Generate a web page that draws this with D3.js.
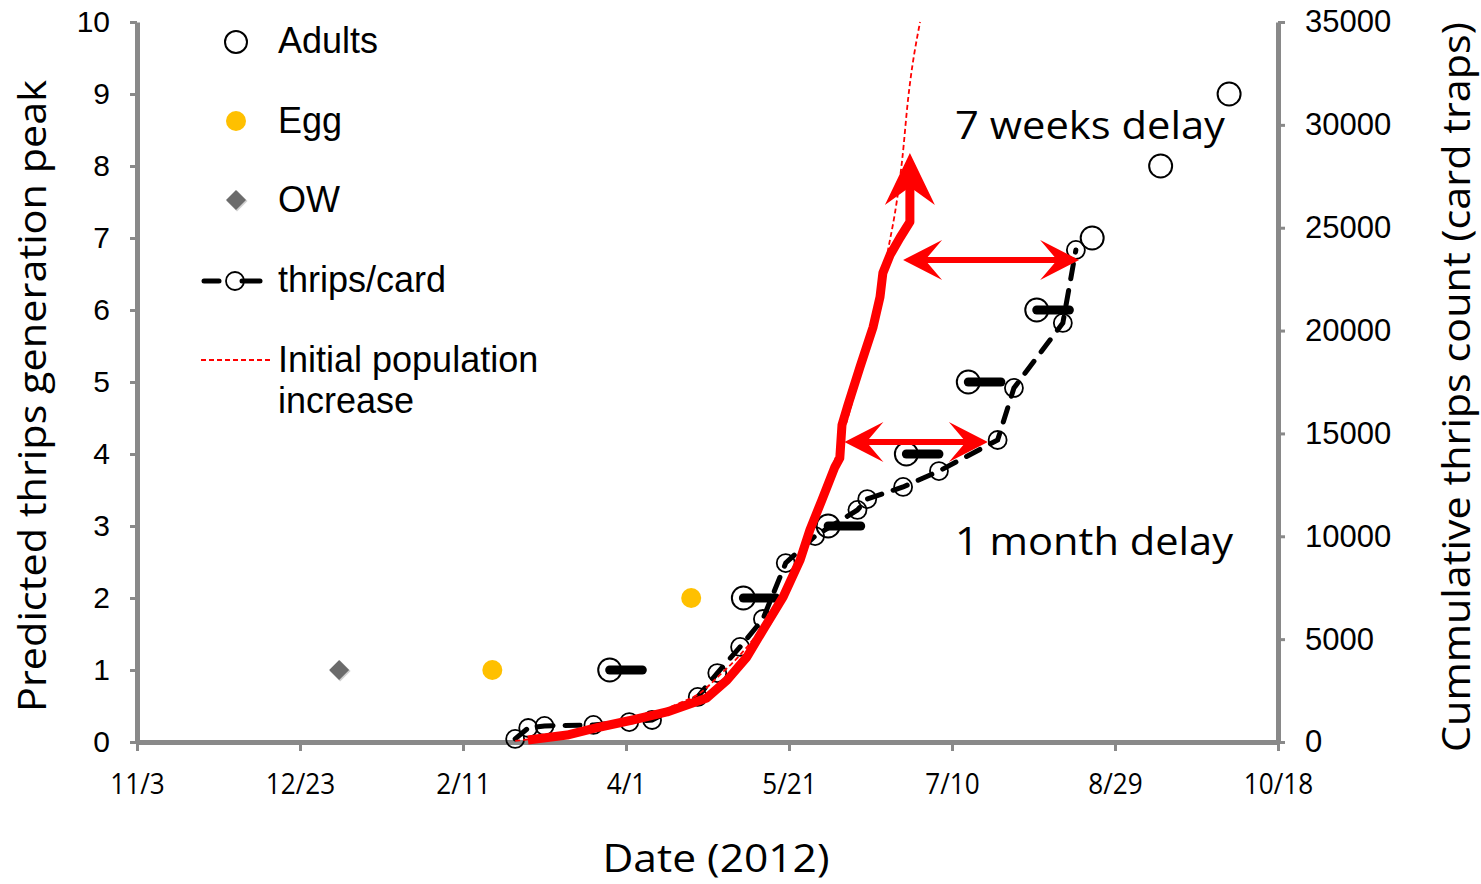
<!DOCTYPE html>
<html><head><meta charset="utf-8">
<script src="https://cdn.jsdelivr.net/npm/d3@7"></script>
<style>body{margin:0;background:#fff} svg{display:block}</style>
</head><body>
<svg id="c" width="1481" height="884"></svg>
<script>
// ---------------- DATA ----------------
const tickDates  = ["2011-11-03","2011-12-23","2012-02-11","2012-04-01","2012-05-21","2012-07-10","2012-08-29","2012-10-18"];
const tickLabels = ["11/3","12/23","2/11","4/1","5/21","7/10","8/29","10/18"];
const genTicks   = [0,1,2,3,4,5,6,7,8,9,10];
const countTicks = [0,5000,10000,15000,20000,25000,30000,35000];

const owDates = ["2012-01-04"];
const owGen   = [1];

const eggDates = ["2012-02-20","2012-04-21"];
const eggGen   = [1,2];

const adultDates  = ["2012-03-27","2012-05-07","2012-06-02","2012-06-26","2012-07-15","2012-08-05","2012-08-22","2012-09-12","2012-10-03"];
const adultGen    = [1,2,3,4,5,6,7,8,9];
const adultSpread = [10,10,10,10,10,10,0,0,0];   // days (horizontal bar to the right)

const thripsDates = ["2012-02-27","2012-03-02","2012-03-07","2012-03-22","2012-04-02","2012-04-09","2012-04-23","2012-04-29","2012-05-06","2012-05-13","2012-05-20","2012-05-29","2012-06-11","2012-06-14","2012-06-25","2012-07-06","2012-07-24","2012-07-29","2012-08-13","2012-08-17"];
const thripsCum   = [150,680,780,830,970,1070,2190,3350,4620,5980,8700,10010,11280,11810,12400,13170,14680,17210,20370,23920];

const predDates = ["2012-03-01T22:00","2012-03-13T22:00","2012-03-24","2012-04-03","2012-04-13T14:00","2012-04-25T19:00","2012-05-02","2012-05-08T02:00","2012-05-13","2012-05-19T05:00","2012-05-24T10:00","2012-05-27T10:00","2012-05-31T02:00","2012-06-04T02:00","2012-06-05T14:00","2012-06-06T06:00","2012-06-08T02:00","2012-06-11T19:00","2012-06-15T19:00","2012-06-17T22:00","2012-06-18T19:00","2012-06-21","2012-06-24","2012-06-27T02:00","2012-06-27T02:00"];
const predCum   = [100,340,730,1070,1460,2140,3010,4130,5440,7050,8850,10310,11760,13370,13800,15410,16380,18230,20170,21630,22800,23670,24500,25280,26980];

const initDates = ["2012-02-27","2012-03-11T18:00","2012-03-24","2012-04-05T07:00","2012-04-17T14:00","2012-04-23T17:00","2012-04-29T19:00","2012-05-06","2012-05-12T02:00","2012-05-18T05:00","2012-05-24T10:00","2012-05-30T12:00","2012-06-04T02:00","2012-06-08T17:00","2012-06-13T07:00","2012-06-17T22:00","2012-06-20T09:00","2012-06-23T03:00","2012-06-24T17:00","2012-06-26T12:00","2012-06-30T05:00"];
const initCum   = [50,340,680,1170,1900,2380,3260,4230,5440,7000,9090,11520,13710,16140,18810,21970,23920,26350,28290,31210,35000];

// delay arrows: [start date, end date, count level]
const delayArrows = [
  {from:"2012-06-25", to:"2012-08-18", count:23430, label:"7 weeks delay"},
  {from:"2012-06-07", to:"2012-07-21", count:14580, label:"1 month delay"}
];

// ---------------- SETUP ----------------
const parse = s => d3.utcParse(s.length > 10 ? "%Y-%m-%dT%H:%M" : "%Y-%m-%d")(s);
const svg = d3.select("#c");
const L = 137, R = 1278, T = 22, B = 742;
const AX = "#898989", RED = "#ff0000";

const x  = d3.scaleUtc().domain([parse(tickDates[0]), parse(tickDates[tickDates.length-1])]).range([L, R]);
const yL = d3.scaleLinear().domain([0,10]).range([B, T]);
const yR = d3.scaleLinear().domain([0,35000]).range([B, T]);

function fit(sel, w){ sel.attr("textLength", w).attr("lengthAdjust","spacingAndGlyphs"); }

// ---------------- AXES ----------------
const gx = svg.append("g").attr("transform",`translate(0,${B})`)
  .call(d3.axisBottom(x).tickValues(tickDates.map(parse)).tickFormat((d,i)=>tickLabels[i]).tickSize(9).tickSizeOuter(0));
const gl = svg.append("g").attr("transform",`translate(${L},0)`)
  .call(d3.axisLeft(yL).tickValues(genTicks).tickFormat(d3.format("d")).tickSize(7).tickSizeOuter(0).tickPadding(20));
const gr = svg.append("g").attr("transform",`translate(${R},0)`)
  .call(d3.axisRight(yR).tickValues(countTicks).tickFormat(d3.format("d")).tickSize(7).tickSizeOuter(0).tickPadding(20));

[gx,gl,gr].forEach(g=>{
  g.select(".domain").attr("stroke",AX).attr("stroke-width",5);
  g.selectAll(".tick line").attr("stroke",AX).attr("stroke-width",3);
});
gl.selectAll(".tick text").attr("font-family","Liberation Sans, Arial, sans-serif").attr("font-size",30).attr("fill","#000");
gr.selectAll(".tick text").attr("font-family","Liberation Sans, Arial, sans-serif").attr("font-size",31).attr("fill","#000");
gx.selectAll(".tick text").attr("font-family","Open Sans, sans-serif").attr("font-size",29).attr("fill","#000")
  .attr("y",52).attr("dy",0)
  .each(function(){ const w=this.getComputedTextLength(); d3.select(this).attr("textLength",w*0.9).attr("lengthAdjust","spacingAndGlyphs"); });

// axis titles
svg.append("text").attr("x",716).attr("y",872).attr("text-anchor","middle")
  .attr("font-family","Open Sans, sans-serif").attr("font-size",39).text("Date (2012)").call(fit,227);
svg.append("text").attr("transform","translate(46,396) rotate(-90)").attr("text-anchor","middle")
  .attr("font-family","Open Sans, sans-serif").attr("font-size",39).text("Predicted thrips generation peak").call(fit,632);
svg.append("text").attr("transform","translate(1470,387) rotate(-90)").attr("text-anchor","middle")
  .attr("font-family","Open Sans, sans-serif").attr("font-size",39).text("Cummulative thrips count (card traps)").call(fit,730);

// ---------------- MARKS ----------------
const plot = svg.append("g");

// thrips/card dashed line + circles
const thrips = thripsDates.map((d,i)=>({x:x(parse(d)), y:yR(thripsCum[i])}));
plot.append("path").attr("d", d3.line().x(d=>d.x).y(d=>d.y)(thrips))
  .attr("fill","none").attr("stroke","#000").attr("stroke-width",5)
  .attr("stroke-dasharray","15,12").attr("stroke-linecap","round");
plot.selectAll(".tc").data(thrips).join("circle")
  .attr("cx",d=>d.x).attr("cy",d=>d.y).attr("r",9)
  .attr("fill","none").attr("stroke","#000").attr("stroke-width",1.8);

// adults
const adults = adultDates.map((d,i)=>({date:parse(d), g:adultGen[i], s:adultSpread[i]}));
plot.selectAll(".ad").data(adults).join("circle")
  .attr("cx",d=>x(d.date)).attr("cy",d=>yL(d.g)).attr("r",11.5)
  .attr("fill","none").attr("stroke","#000").attr("stroke-width",2);
plot.selectAll(".bar").data(adults.filter(d=>d.s>0)).join("line")
  .attr("x1",d=>x(d.date)).attr("x2",d=>x(d3.utcDay.offset(d.date,d.s)))
  .attr("y1",d=>yL(d.g)).attr("y2",d=>yL(d.g))
  .attr("stroke","#000").attr("stroke-width",9).attr("stroke-linecap","round");

// eggs
plot.selectAll(".egg").data(eggDates.map((d,i)=>({date:parse(d),g:eggGen[i]}))).join("circle")
  .attr("cx",d=>x(d.date)).attr("cy",d=>yL(d.g)).attr("r",10).attr("fill","#ffc000");

// OW
const ows = owDates.map((d,i)=>({date:parse(d),g:owGen[i]}));
plot.selectAll(".owS").data(ows).join("path").attr("d",d3.symbol().type(d3.symbolSquare).size(220)())
  .attr("transform",d=>`translate(${x(d.date)+1},${yL(d.g)+1}) rotate(45)`).attr("fill","#d0d0d0");
plot.selectAll(".ow").data(ows).join("path").attr("d",d3.symbol().type(d3.symbolSquare).size(200)())
  .attr("transform",d=>`translate(${x(d.date)},${yL(d.g)}) rotate(45)`).attr("fill","#6b6b6b");

// predicted cumulative (thick red)
const pred = predDates.map((d,i)=>({x:x(parse(d)), y:yR(predCum[i])}));
plot.append("path").attr("d", d3.line().x(d=>d.x).y(d=>d.y)(pred))
  .attr("fill","none").attr("stroke",RED).attr("stroke-width",9)
  .attr("stroke-linejoin","round").attr("stroke-linecap","butt");

// initial population increase (thin dashed red)
const init = initDates.map((d,i)=>({x:x(parse(d)), y:yR(initCum[i])}));
plot.append("path").attr("d", d3.line().curve(d3.curveMonotoneX).x(d=>d.x).y(d=>d.y)(init))
  .attr("fill","none").attr("stroke",RED).attr("stroke-width",1.8).attr("stroke-dasharray","5,3");

// arrowheads
function head(tx,ty,dx,dy,len,half,notch){
  const px=-dy, py=dx;
  const bx=tx-dx*len, by=ty-dy*len;
  const pts=[[tx,ty],[bx+px*half,by+py*half],[tx-dx*notch,ty-dy*notch],[bx-px*half,by-py*half]];
  plot.append("path").attr("d","M"+pts.map(p=>p.join(",")).join("L")+"Z").attr("fill",RED);
}
// arrow at end of predicted line
{
  const a=pred[pred.length-2], b=pred[pred.length-1];
  const L2=Math.hypot(b.x-a.x,b.y-a.y), dx=(b.x-a.x)/L2, dy=(b.y-a.y)/L2;
  head(b.x+dx*34, b.y+dy*34, dx, dy, 52, 25, 34);
}
// delay arrows
delayArrows.forEach(a=>{
  const x1=x(parse(a.from)), x2=x(parse(a.to)), yy=yR(a.count);
  plot.append("line").attr("x1",x1+20).attr("x2",x2-20).attr("y1",yy).attr("y2",yy)
    .attr("stroke",RED).attr("stroke-width",6);
  head(x1,yy,-1,0,39,20,22);
  head(x2,yy,1,0,39,20,22);
});

// annotations
svg.append("text").attr("x",955).attr("y",139).attr("font-family","Open Sans, sans-serif").attr("font-size",39)
  .text(delayArrows[0].label).call(fit,270);
svg.append("text").attr("x",955).attr("y",555).attr("font-family","Open Sans, sans-serif").attr("font-size",39)
  .text(delayArrows[1].label).call(fit,278);

// ---------------- LEGEND ----------------
const lg = svg.append("g").attr("font-family","Liberation Sans, Arial, sans-serif").attr("font-size",36);
lg.append("circle").attr("cx",236).attr("cy",42).attr("r",11).attr("fill","none").attr("stroke","#000").attr("stroke-width",2);
lg.append("text").attr("x",278).attr("y",53).text("Adults");
lg.append("circle").attr("cx",236).attr("cy",121).attr("r",10).attr("fill","#ffc000");
lg.append("text").attr("x",278).attr("y",133).text("Egg");
lg.append("path").attr("d",d3.symbol().type(d3.symbolSquare).size(220)()).attr("transform","translate(237,201) rotate(45)").attr("fill","#d0d0d0");
lg.append("path").attr("d",d3.symbol().type(d3.symbolSquare).size(200)()).attr("transform","translate(236,200) rotate(45)").attr("fill","#6b6b6b");
lg.append("text").attr("x",278).attr("y",212).text("OW");
lg.append("line").attr("x1",204).attr("x2",219).attr("y1",281).attr("y2",281).attr("stroke","#000").attr("stroke-width",5).attr("stroke-linecap","round");
lg.append("line").attr("x1",242).attr("x2",260).attr("y1",281).attr("y2",281).attr("stroke","#000").attr("stroke-width",5).attr("stroke-linecap","round");
lg.append("circle").attr("cx",235).attr("cy",281).attr("r",9).attr("fill","none").attr("stroke","#000").attr("stroke-width",1.8);
lg.append("text").attr("x",278).attr("y",292).text("thrips/card");
lg.append("line").attr("x1",201).attr("x2",270).attr("y1",360).attr("y2",360).attr("stroke",RED).attr("stroke-width",1.8).attr("stroke-dasharray","5,3");
lg.append("text").attr("x",278).attr("y",372).text("Initial population");
lg.append("text").attr("x",278).attr("y",413).text("increase");
</script></body></html>
